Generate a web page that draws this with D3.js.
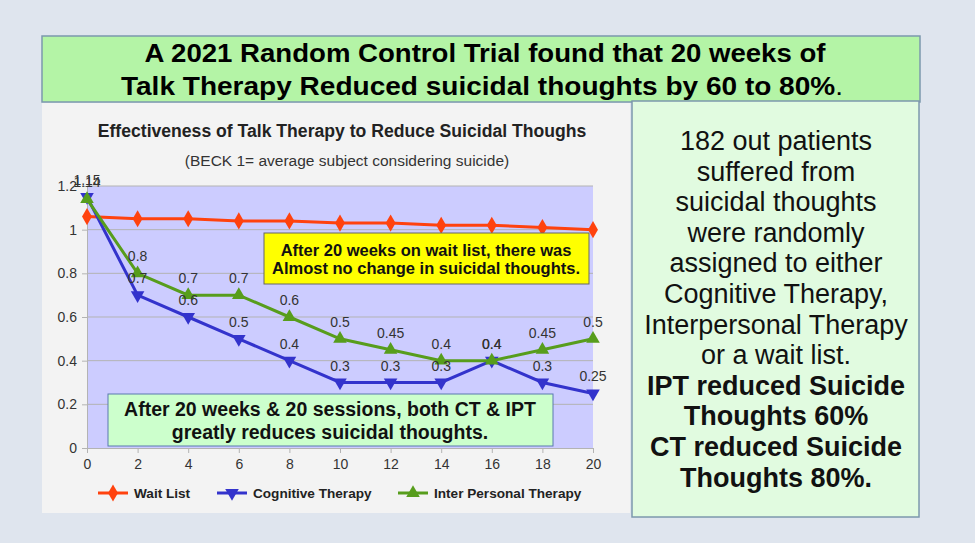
<!DOCTYPE html>
<html>
<head>
<meta charset="utf-8">
<script src="https://cdn.jsdelivr.net/npm/d3@7"></script>
<style>
  body { margin: 0; background: #dfe5ee; }
  svg text { font-family: "Liberation Sans", Arial, sans-serif; }
</style>
</head>
<body>
<div id="chart"></div>
<script>
// data
var weeks = [0, 2, 4, 6, 8, 10, 12, 14, 16, 18, 20];
var waitList = [1.06, 1.05, 1.05, 1.04, 1.04, 1.03, 1.03, 1.02, 1.02, 1.01, 1.0];
var cognitive = [1.15, 0.7, 0.6, 0.5, 0.4, 0.3, 0.3, 0.3, 0.4, 0.3, 0.25];
var interPersonal = [1.14, 0.8, 0.7, 0.7, 0.6, 0.5, 0.45, 0.4, 0.4, 0.45, 0.5];
var seriesNames = ["Wait List", "Cognitive Therapy", "Inter Personal Therapy"];
var yTicks = [0, 0.2, 0.4, 0.6, 0.8, 1, 1.2];
var xTicks = [0, 2, 4, 6, 8, 10, 12, 14, 16, 18, 20];
var headline = ["A 2021 Random Control Trial found that 20 weeks of",
  "Talk Therapy Reduced suicidal thoughts by 60 to 80%"];
var sideText = ["182 out patients", "suffered from", "suicidal thoughts", "were randomly",
  "assigned to either", "Cognitive Therapy,", "Interpersonal Therapy", "or a wait list."];
var sideBold = ["IPT reduced Suicide", "Thoughts 60%", "CT reduced Suicide", "Thoughts 80%."];

var svg = d3.select("#chart").append("svg")
  .attr("width", 975)
  .attr("height", 543);

svg.append("rect").attr("width", 975).attr("height", 543).attr("fill", "#dfe5ee");

// headline box
svg.append("rect")
  .attr("x", 42).attr("y", 36).attr("width", 878).attr("height", 66)
  .attr("fill", "#b4f4a6").attr("stroke", "#7c98ad").attr("stroke-width", 1.5);

svg.append("text")
  .attr("x", 485).attr("y", 62)
  .attr("text-anchor", "middle")
  .attr("font-size", 25).attr("font-weight", "bold")
  .attr("textLength", 681).attr("lengthAdjust", "spacingAndGlyphs")
  .text(headline[0]);

var h2 = svg.append("text")
  .attr("x", 482).attr("y", 95)
  .attr("text-anchor", "middle")
  .attr("font-size", 25)
  .attr("textLength", 722).attr("lengthAdjust", "spacingAndGlyphs");
h2.append("tspan").attr("font-weight", "bold").text(headline[1]);
h2.append("tspan").text(".");

// chart panel
svg.append("rect")
  .attr("x", 42).attr("y", 103).attr("width", 588).attr("height", 410)
  .attr("fill", "#f3f3f3");

// side box
svg.append("rect")
  .attr("x", 632).attr("y", 101).attr("width", 287).attr("height", 416)
  .attr("fill", "#e1fbe0").attr("stroke", "#7c98ad").attr("stroke-width", 1.5);

var side = svg.append("g").attr("text-anchor", "middle").attr("font-size", 27);
sideText.concat(sideBold).forEach(function (t, i) {
  side.append("text")
    .attr("x", 776)
    .attr("y", 150 + i * 30.6)
    .attr("font-weight", i >= sideText.length ? "bold" : "normal")
    .attr("fill", "#111")
    .text(t);
});

// chart
var margin = { left: 87, top: 186 };
var width = 506, height = 262;

var x = d3.scaleLinear().domain([0, 20]).range([0, width]);
var y = d3.scaleLinear().domain([0, 1.2]).range([height, 0]);

var chartGroup = svg.append("g")
  .attr("transform", `translate(${margin.left}, ${margin.top})`);

chartGroup.append("rect")
  .attr("width", width).attr("height", height)
  .attr("fill", "#ccccff");

// gridlines
chartGroup.append("g")
  .selectAll("line")
  .data(yTicks.slice(1))
  .enter()
  .append("line")
  .attr("x1", 0).attr("x2", width)
  .attr("y1", d => y(d)).attr("y2", d => y(d))
  .attr("stroke", "#b3b3b3").attr("stroke-width", 1);

var leftAxis = d3.axisLeft(y).tickValues(yTicks).tickSize(5).tickPadding(5)
  .tickFormat(d => String(d));
var bottomAxis = d3.axisBottom(x).tickValues(xTicks).tickSize(5).tickPadding(6);

var yAx = chartGroup.append("g").call(leftAxis);
var xAx = chartGroup.append("g").attr("transform", `translate(0, ${height})`).call(bottomAxis);
[yAx, xAx].forEach(function (ax) {
  ax.select(".domain").attr("stroke", "#b3b3b3");
  ax.selectAll(".tick line").attr("stroke", "#b3b3b3");
  ax.selectAll(".tick text").attr("fill", "#333").attr("font-size", 14)
    .attr("font-family", "Liberation Sans, Arial, sans-serif");
});

// series
var colors = ["#ff420e", "#3333cc", "#579d1c"];
var values = [waitList, cognitive, interPersonal];
var symbols = [
  d3.symbol().type(d3.symbolDiamond).size(85),
  d3.symbol().type(d3.symbolTriangle).size(80),
  d3.symbol().type(d3.symbolTriangle).size(80)
];
var rotations = [0, 180, 0];

var line = d3.line()
  .x(d => x(d[0]))
  .y(d => y(d[1]));

values.forEach(function (vals, s) {
  var pts = weeks.map((w, i) => [w, vals[i]]);
  chartGroup.append("path")
    .datum(pts)
    .attr("d", line)
    .attr("fill", "none")
    .attr("stroke", colors[s])
    .attr("stroke-width", 3);
  chartGroup.append("g")
    .selectAll("path")
    .data(pts)
    .enter()
    .append("path")
    .attr("d", symbols[s])
    .attr("transform", d => `translate(${x(d[0])}, ${y(d[1])}) rotate(${rotations[s]})`)
    .attr("fill", colors[s]);
});

// data labels for the two therapies
[cognitive, interPersonal].forEach(function (vals) {
  chartGroup.append("g")
    .selectAll("text")
    .data(weeks.map((w, i) => [w, vals[i]]))
    .enter()
    .append("text")
    .attr("x", d => x(d[0]))
    .attr("y", d => y(d[1]) - 12)
    .attr("text-anchor", "middle")
    .attr("font-size", 14)
    .attr("fill", "#333")
    .text(d => d[1]);
});

// annotation boxes
var yellow = svg.append("g");
yellow.append("rect")
  .attr("x", 264).attr("y", 233).attr("width", 325).attr("height", 51)
  .attr("fill", "#ffff00").attr("stroke", "#666").attr("stroke-width", 1);
["After 20 weeks on wait list, there was", "Almost no change in suicidal thoughts."]
  .forEach(function (t, i) {
    yellow.append("text")
      .attr("x", 426).attr("y", 255.5 + i * 18)
      .attr("text-anchor", "middle")
      .attr("font-size", 16.5).attr("font-weight", "bold")
      .attr("fill", "#111")
      .text(t);
  });

var greenBox = svg.append("g");
greenBox.append("rect")
  .attr("x", 108).attr("y", 394).attr("width", 445).attr("height", 52)
  .attr("fill", "#ccffcc").attr("stroke", "#5a78b0").attr("stroke-width", 1);
["After 20 weeks & 20 sessions, both CT & IPT", "greatly reduces suicidal thoughts."]
  .forEach(function (t, i) {
    greenBox.append("text")
      .attr("x", 330).attr("y", 416 + i * 23)
      .attr("text-anchor", "middle")
      .attr("font-size", 19.5).attr("font-weight", "bold")
      .attr("fill", "#111")
      .text(t);
  });

// chart titles
svg.append("text")
  .attr("x", 342).attr("y", 137)
  .attr("text-anchor", "middle")
  .attr("font-size", 17.6).attr("font-weight", "bold")
  .attr("fill", "#222")
  .text("Effectiveness of Talk Therapy to Reduce Suicidal Thoughs");

svg.append("text")
  .attr("x", 347).attr("y", 166)
  .attr("text-anchor", "middle")
  .attr("font-size", 15.5)
  .attr("fill", "#333")
  .text("(BECK 1= average subject considering suicide)");

// legend
var legendX = [98, 217, 398];
var legend = svg.append("g");
seriesNames.forEach(function (name, s) {
  var g = legend.append("g").attr("transform", `translate(${legendX[s]}, 493)`);
  g.append("line").attr("x1", 0).attr("x2", 30)
    .attr("stroke", colors[s]).attr("stroke-width", 3);
  g.append("path")
    .attr("d", symbols[s])
    .attr("transform", `translate(15, 0) rotate(${rotations[s]})`)
    .attr("fill", colors[s]);
  g.append("text")
    .attr("x", 36).attr("y", 5)
    .attr("font-size", 13.6).attr("font-weight", "bold")
    .attr("fill", "#222")
    .text(name);
});
</script>
</body>
</html>
